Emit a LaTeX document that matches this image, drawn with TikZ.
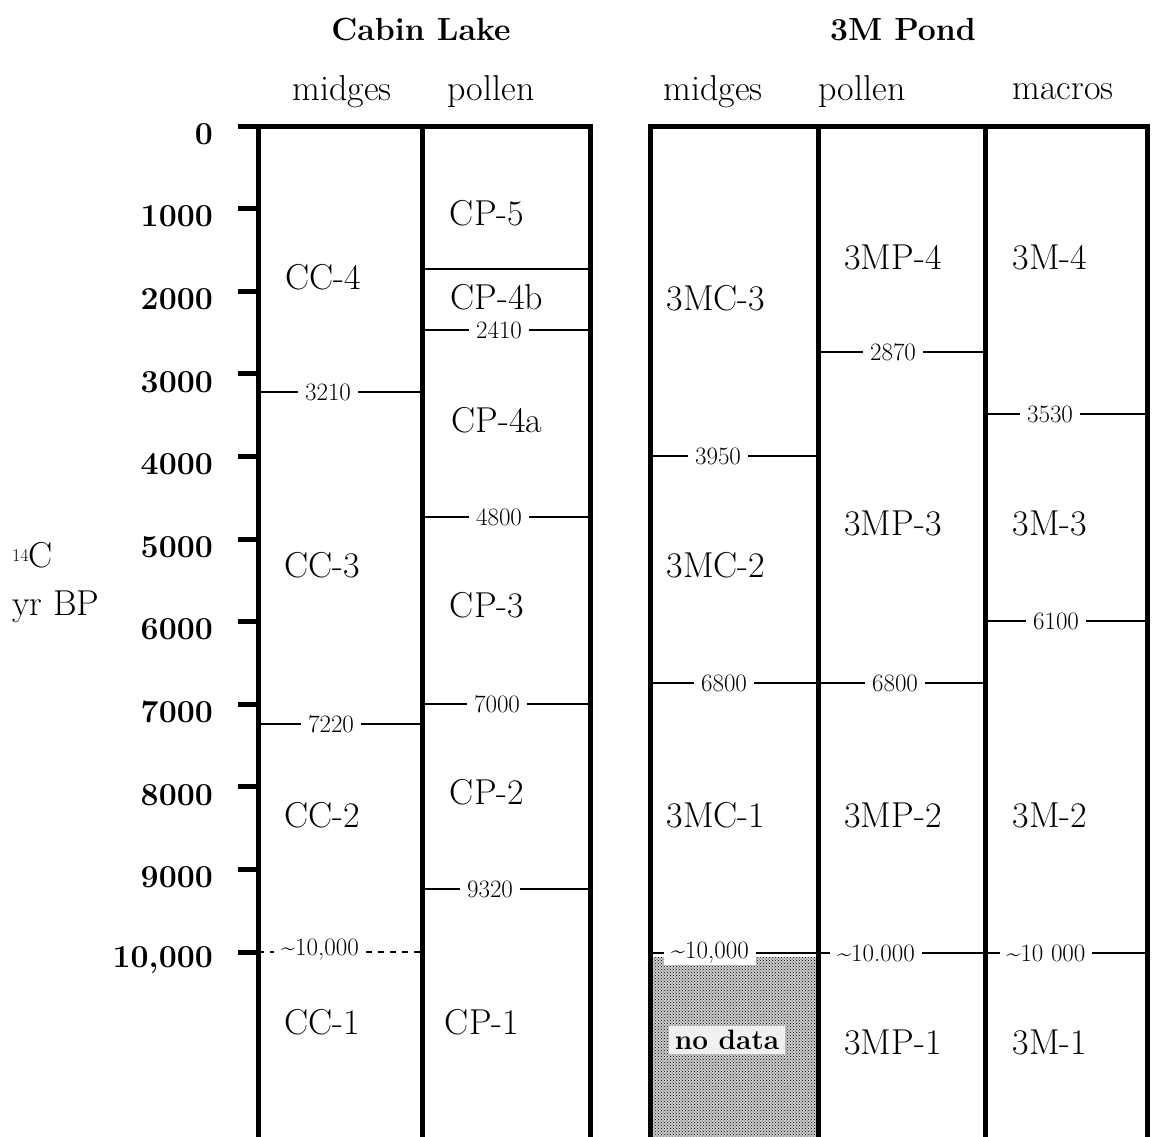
\documentclass[tikz,border=0pt]{standalone}
\usetikzlibrary{patterns}
\tikzset{
  border/.style={line width=5pt},
  bline/.style={line width=2.4pt},
  dline/.style={line width=1.4pt, dash pattern=on 6pt off 6pt},
  zone/.style={font=\fontsize{36}{42}\selectfont, inner sep=0pt},
  blab/.style={font=\fontsize{25}{30}\selectfont, fill=white, inner xsep=7pt, inner ysep=1pt},
  axlab/.style={font=\bfseries\fontsize{32}{38}\selectfont, anchor=east, inner sep=0pt},
  colhead/.style={font=\fontsize{36}{42}\selectfont, inner sep=0pt},
  ttl/.style={font=\bfseries\fontsize{32}{38}\selectfont, inner sep=0pt},
}
\begin{document}
\begin{tikzpicture}[x=1pt,y=-1pt]
\useasboundingbox (0,0) rectangle (1155,1136);
\clip (0,0) rectangle (1155,1136);

% titles and column heads
\node[ttl] (t1) at (421,30) {Cabin Lake};
\node[ttl] (t2) at (903,30) {3M Pond};
\node[colhead] (h1) at (342,92) {midges};
\node[colhead] (h2) at (491,92) {pollen};
\node[colhead] (h3) at (713,92) {midges};
\node[colhead] (h4) at (862,92) {pollen};
\node[colhead] (h5) at (1063,92) {macros};

% axis label
\node[font=\fontsize{36}{42}\selectfont, anchor=west, inner sep=0pt] (u1) at (12,555) {\raisebox{0.4ex}{\fontsize{18}{20}\selectfont 14}C};
\node[font=\fontsize{36}{42}\selectfont, anchor=west, inner sep=0pt] (u2) at (12,607) {yr BP};

% axis ticks and numbers
\foreach \v/\t [count=\i from 0] in {0/0,1/1000,2/2000,3/3000,4/4000,5/5000,6/6000,7/7000,8/8000,9/9000,10/{10,000}}{
  \pgfmathsetmacro{\yy}{126+82.6*\v}
  \coordinate (tk\i) at (238,\yy);
  \coordinate (tke\i) at (258,\yy);
  \draw[border] (tk\i) -- (tke\i);
  \node[axlab] (ax\i) at (213,\yy+8) {\t};
}

% no data hatched area
\path[fill=gray!40] (652,957) rectangle (816,1140);
\path[pattern=crosshatch dots, pattern color=black] (652,957) rectangle (816,1140);
\node[font=\bfseries\fontsize{28}{32}\selectfont, fill=gray!12, inner xsep=6pt, inner ysep=4pt] (nd) at (727,1040) {no data};

% ---- boundaries: Cabin Lake midges
\coordinate (a1) at (258,392); \coordinate (a2) at (422,392);
\draw[bline] (a1) -- (a2);
\node[blab] (l3210) at (328,392) {3210};
\coordinate (b1) at (258,724); \coordinate (b2) at (422,724);
\draw[bline] (b1) -- (b2);
\node[blab] (l7220) at (331,724) {7220};
\coordinate (c1) at (258,952); \coordinate (c2) at (422,952);
\draw[dline] (c1) -- (c2);
\node[blab] (lc10) at (320,950) {\textasciitilde10,000};

% ---- Cabin Lake pollen
\coordinate (p0a) at (422,269); \coordinate (p0b) at (590,269);
\draw[bline] (p0a) -- (p0b);
\foreach \yy/\lab/\xc/\nm in {330/2410/499/p1, 517/4800/499/p2, 704/7000/497/p3, 889/9320/490/p4}{
  \coordinate (\nm a) at (422,\yy); \coordinate (\nm b) at (590,\yy);
  \draw[bline] (\nm a) -- (\nm b);
  \node[blab] (\nm l) at (\xc,\yy) {\lab};
}

% ---- 3M midges
\foreach \yy/\lab/\xc/\nm in {456/3950/718/m1, 683/6800/724/m2, 953/{\textasciitilde10,000}/710/m3}{
  \coordinate (\nm a) at (650,\yy); \coordinate (\nm b) at (818,\yy);
  \draw[bline] (\nm a) -- (\nm b);
  \node[blab] (\nm l) at (\xc,\yy) {\lab};
}
% ---- 3M pollen
\foreach \yy/\lab/\xc/\nm in {352/2870/893/q1, 683/6800/895/q2, 953/{\textasciitilde10.000}/876/q3}{
  \coordinate (\nm a) at (818,\yy); \coordinate (\nm b) at (985,\yy);
  \draw[bline] (\nm a) -- (\nm b);
  \node[blab] (\nm l) at (\xc,\yy) {\lab};
}
% ---- 3M macros
\foreach \yy/\lab/\xc/\nm in {414/3530/1050/r1, 621/6100/1056/r2, 953/{\textasciitilde10 000}/1046/r3}{
  \coordinate (\nm a) at (985,\yy); \coordinate (\nm b) at (1147,\yy);
  \draw[bline] (\nm a) -- (\nm b);
  \node[blab] (\nm l) at (\xc,\yy) {\lab};
}

% zone labels
\node[zone] (cc4) at (323,277) {CC-4};
\node[zone] (cc3) at (322,565) {CC-3};
\node[zone] (cc2) at (322,815) {CC-2};
\node[zone] (cc1) at (322,1022) {CC-1};
\node[zone] (cp5) at (487,213) {CP-5};
\node[zone] (cp4b) at (497,297) {CP-4b};
\node[zone] (cp4a) at (497,420) {CP-4a};
\node[zone] (cp3) at (487,605) {CP-3};
\node[zone] (cp2) at (487,792) {CP-2};
\node[zone] (cp1) at (482,1022) {CP-1};
\node[zone] (mc3) at (716,298) {3MC-3};
\node[zone] (mc2) at (716,565) {3MC-2};
\node[zone] (mc1) at (716,815) {3MC-1};
\node[zone] (mp4) at (893,257) {3MP-4};
\node[zone] (mp3) at (893,523) {3MP-3};
\node[zone] (mp2) at (893,815) {3MP-2};
\node[zone] (mp1) at (893,1042) {3MP-1};
\node[zone] (mm4) at (1050,257) {3M-4};
\node[zone] (mm3) at (1050,523) {3M-3};
\node[zone] (mm2) at (1050,815) {3M-2};
\node[zone] (mm1) at (1050,1042) {3M-1};

% panel borders
\coordinate (L0) at (238,126); \coordinate (L1) at (592,126);
\draw[border] (L0) -- (L1);
\foreach \xx/\nm in {258/v1, 422/v2, 590/v3, 650/v4, 818/v5, 985/v6, 1147/v7}{
  \coordinate (\nm t) at (\xx,124); \coordinate (\nm b) at (\xx,1145);
  \draw[border] (\nm t) -- (\nm b);
}
\coordinate (R0) at (648,126); \coordinate (R1) at (1149,126);
\draw[border] (R0) -- (R1);
\end{tikzpicture}
\end{document}
